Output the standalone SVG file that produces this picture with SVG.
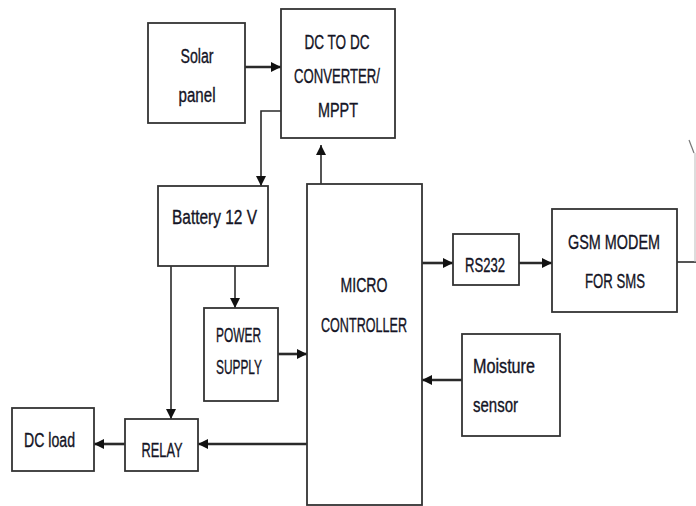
<svg xmlns="http://www.w3.org/2000/svg" width="696" height="506" viewBox="0 0 696 506">
<style>
.box{fill:#fff;stroke:#333;stroke-width:1.8}
.t{font-family:"Liberation Sans Narrow","Liberation Sans",Arial,sans-serif;font-size:20px;fill:#141425;stroke:#141425;stroke-width:0.35}
.c{fill:none;stroke:#2a2a2a;stroke-width:1.6}
.ct{fill:none;stroke:#2a2a2a;stroke-width:2.6}
</style>
<defs>
<marker id="ah" markerUnits="userSpaceOnUse" markerWidth="11" markerHeight="11" refX="10" refY="5" orient="auto">
<path d="M0,0 L10,5 L0,10 z" fill="#111"/>
</marker>
</defs>
<rect width="696" height="506" fill="#fff"/>
<g id="connectors">
<line class="ct" x1="245" y1="67" x2="281" y2="67" marker-end="url(#ah)"/>
<polyline class="c" points="281,111 261,111 261,186" marker-end="url(#ah)"/>
<line class="c" x1="321" y1="184" x2="321" y2="145" marker-end="url(#ah)"/>
<line class="c" x1="235" y1="266" x2="235" y2="308" marker-end="url(#ah)"/>
<line class="ct" x1="278" y1="354" x2="307" y2="354" marker-end="url(#ah)"/>
<line class="c" x1="171" y1="266" x2="171" y2="419" marker-end="url(#ah)"/>
<line class="ct" x1="307" y1="444" x2="198" y2="444" marker-end="url(#ah)"/>
<line class="ct" x1="125" y1="444" x2="94" y2="444" marker-end="url(#ah)"/>
<line class="ct" x1="422" y1="263" x2="453" y2="263" marker-end="url(#ah)"/>
<line class="ct" x1="519" y1="263" x2="552" y2="263" marker-end="url(#ah)"/>
<line class="ct" x1="462" y1="380" x2="422" y2="380" marker-end="url(#ah)"/>
<line class="c" x1="677" y1="262" x2="696" y2="262"/>
<line x1="689" y1="140" x2="694" y2="153" stroke="#777" stroke-width="1.2"/>
<line x1="695" y1="153" x2="695" y2="262" stroke="#bbb" stroke-width="1"/>
</g>
<g id="solar">
<rect class="box" x="148" y="23" width="97" height="100"/>
<text class="t" x="197" y="63" text-anchor="middle" textLength="33" lengthAdjust="spacingAndGlyphs">Solar</text>
<text class="t" x="197" y="102" text-anchor="middle" textLength="37" lengthAdjust="spacingAndGlyphs">panel</text>
</g>
<g id="dcdc">
<rect class="box" x="281" y="9" width="114" height="129"/>
<text class="t" x="337" y="49" text-anchor="middle" textLength="65" lengthAdjust="spacingAndGlyphs">DC TO DC</text>
<text class="t" x="337" y="83" text-anchor="middle" textLength="86" lengthAdjust="spacingAndGlyphs">CONVERTER/</text>
<text class="t" x="338" y="117" text-anchor="middle" textLength="40" lengthAdjust="spacingAndGlyphs">MPPT</text>
</g>
<g id="battery">
<rect class="box" x="158" y="186" width="110" height="80"/>
<text class="t" x="172" y="224" textLength="85" lengthAdjust="spacingAndGlyphs">Battery 12 V</text>
</g>
<g id="micro">
<rect class="box" x="307" y="184" width="115" height="321"/>
<text class="t" x="364" y="292" text-anchor="middle" textLength="47" lengthAdjust="spacingAndGlyphs">MICRO</text>
<text class="t" x="364" y="332" text-anchor="middle" textLength="86" lengthAdjust="spacingAndGlyphs">CONTROLLER</text>
</g>
<g id="rs232">
<rect class="box" x="453" y="234" width="66" height="51"/>
<text class="t" x="485" y="272" text-anchor="middle" textLength="40" lengthAdjust="spacingAndGlyphs">RS232</text>
</g>
<g id="gsm">
<rect class="box" x="552" y="209" width="125" height="103"/>
<text class="t" x="614" y="249" text-anchor="middle" textLength="92" lengthAdjust="spacingAndGlyphs">GSM MODEM</text>
<text class="t" x="615" y="288" text-anchor="middle" textLength="60" lengthAdjust="spacingAndGlyphs">FOR SMS</text>
</g>
<g id="moisture">
<rect class="box" x="462" y="334" width="98" height="102"/>
<text class="t" x="473" y="373" textLength="62" lengthAdjust="spacingAndGlyphs">Moisture</text>
<text class="t" x="473" y="412" textLength="45" lengthAdjust="spacingAndGlyphs">sensor</text>
</g>
<g id="power">
<rect class="box" x="204" y="308" width="74" height="93"/>
<text class="t" x="216" y="342" font-size="17" textLength="45" lengthAdjust="spacingAndGlyphs">POWER</text>
<text class="t" x="216" y="374" font-size="17" textLength="46" lengthAdjust="spacingAndGlyphs">SUPPLY</text>
</g>
<g id="relay">
<rect class="box" x="125" y="419" width="73" height="52"/>
<text class="t" x="162" y="457" text-anchor="middle" textLength="41" lengthAdjust="spacingAndGlyphs">RELAY</text>
</g>
<g id="dcload">
<rect class="box" x="12" y="408" width="82" height="63"/>
<text class="t" x="24" y="447" textLength="51" lengthAdjust="spacingAndGlyphs">DC load</text>
</g>
</svg>
